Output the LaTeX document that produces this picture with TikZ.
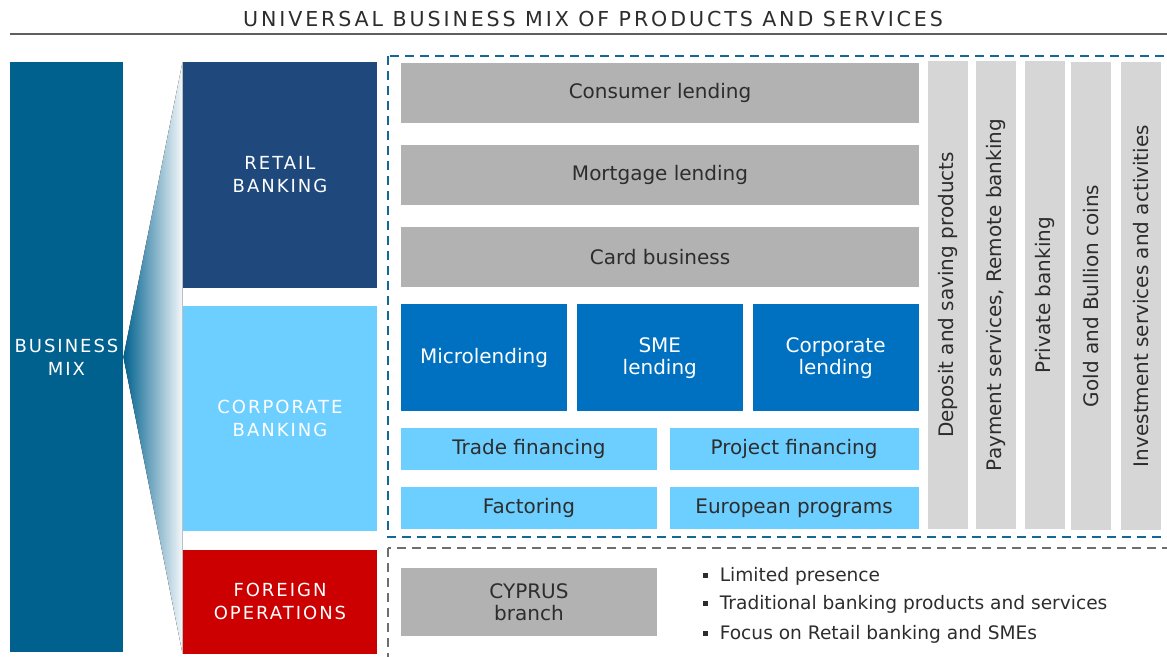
\documentclass[tikz,border=0pt]{standalone}
\usepackage{fontspec}
\setmainfont{DejaVu Sans}
\newfontfamily\capsfont[LetterSpace=11]{DejaVu Sans}
\newfontfamily\titlefont[LetterSpace=14]{DejaVu Sans}
\usetikzlibrary{positioning}
\definecolor{bMix}{RGB}{0,97,143}
\definecolor{bNavy}{RGB}{31,73,125}
\definecolor{bSky}{RGB}{109,207,255}
\definecolor{bRed}{RGB}{204,0,0}
\definecolor{bLoan}{RGB}{0,112,192}
\definecolor{bCell}{RGB}{178,178,178}
\definecolor{bBar}{RGB}{214,214,214}
\definecolor{bText}{RGB}{45,45,45}
\definecolor{bDashBlue}{RGB}{21,104,150}
\definecolor{bDashGray}{RGB}{110,110,110}
\definecolor{bRule}{RGB}{95,95,95}
\newcommand{\sqbullet}{\rule[1.8pt]{2.2pt}{2.2pt}\hspace{6pt}}

\begin{document}
\begin{tikzpicture}[
  x=0.5pt, y=-0.5pt,
  node distance=10.5pt and 4.5pt,
  box/.style={inner sep=0pt, align=center, font=\fontsize{10}{11}\selectfont},
  seg/.style={box, text=white, minimum width=97pt, font=\capsfont\fontsize{9}{11.5}\selectfont},
  row/.style={box, fill=bCell, text=bText, minimum width=259pt, minimum height=30pt},
  loan/.style={box, fill=bLoan, text=white, minimum width=83pt, minimum height=53.5pt},
  fin/.style={box, fill=bSky, text=bText, minimum height=21pt},
  vbar/.style={box, fill=bBar, text=bText, rotate=90, minimum width=233.5pt, minimum height=20pt},
  item/.style={anchor=west, inner sep=0pt, text=bText, font=\fontsize{9.3}{11}\selectfont},
  frame/.style={line width=1pt, dash pattern=on 4.5pt off 3pt}
]
  \useasboundingbox (0,0) rectangle (1167,657);
  \node[text=bText, font=\titlefont\fontsize{10.3}{12}\selectfont] (title) at (593,19) {UNIVERSAL BUSINESS MIX OF PRODUCTS AND SERVICES};
  \draw[bRule, line width=1pt] (10,34) -- (1167,34);

  \node[seg, fill=bMix, minimum width=56.5pt, minimum height=295pt] (mix) at (66.5,357) {BUSINESS\\MIX};
  \node[seg, fill=bNavy, minimum height=113pt] (retail) at (280,175) {RETAIL\\BANKING};
  \node[seg, fill=bSky, minimum height=112.5pt, below=8.5pt of retail] (corporate) {CORPORATE\\BANKING};
  \node[seg, fill=bRed, minimum height=52pt, below=9pt of corporate] (foreign) {FOREIGN\\OPERATIONS};
  \fill[left color=bMix, right color=bMix!4] (mix.east) -- (retail.north west) -- (foreign.south west) -- cycle;

  \draw[frame, bDashBlue] (388,56) rectangle (1180,537);
  \draw[frame, bDashGray] (388,548) rectangle (1180,680);

  \node[row] (consumer) at (660,93) {Consumer lending};
  \node[row, below=of consumer] (mortgage) {Mortgage lending};
  \node[row, below=of mortgage] (card) {Card business};
  \node[loan, below=8.5pt of card.south west, anchor=north west] (micro) {Microlending};
  \node[loan, right=of micro] (sme) {SME\\lending};
  \node[loan, right=of sme] (corplend) {Corporate\\lending};
  \node[fin, minimum width=128pt, below=8pt of micro.south west, anchor=north west] (trade) {Trade financing};
  \node[fin, minimum width=124.5pt, below=8pt of corplend.south east, anchor=north east] (project) {Project financing};
  \node[fin, minimum width=128pt, below=8pt of trade] (factoring) {Factoring};
  \node[fin, minimum width=124.5pt, below=8pt of project] (european) {European programs};

  \node[vbar] (deposit) at (948,295) {Deposit and saving products};
  \node[vbar] (payment) at (996,295) {Payment services, Remote banking};
  \node[vbar] (private) at (1045,295) {Private banking};
  \node[vbar] (gold) at (1091,296) {Gold and Bullion coins};
  \node[vbar] (invest) at (1141,296) {Investment services and activities};

  \node[box, fill=bCell, text=bText, minimum width=128pt, minimum height=34pt] (cyprus) at (529,602) {CYPRUS\\branch};
  \node[item] (presence) at (703,576) {\sqbullet Limited presence};
  \node[item] (traditional) at (703,604) {\sqbullet Traditional banking products and services};
  \node[item] (focus) at (703,634) {\sqbullet Focus on Retail banking and SMEs};
\end{tikzpicture}
\end{document}
